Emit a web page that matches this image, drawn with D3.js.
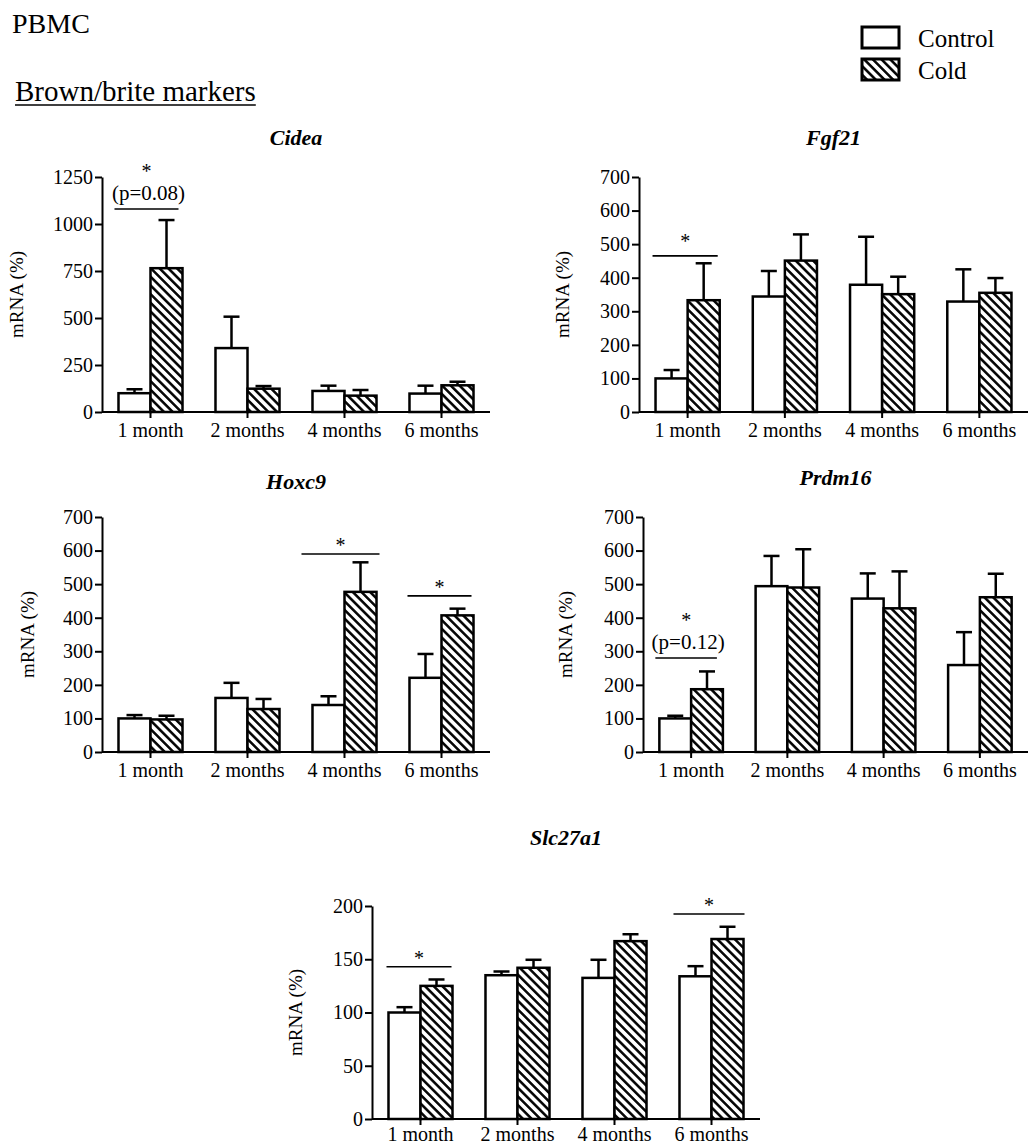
<!DOCTYPE html>
<html>
<head>
<meta charset="utf-8">
<script src="https://cdn.jsdelivr.net/npm/d3@7"></script>
<style>
  body { margin: 0; background: #fff; }
</style>
</head>
<body>
<svg id="fig" width="1029" height="1146"></svg>
<script>
// ---- data -------------------------------------------------------------
const groups = ["1 month", "2 months", "4 months", "6 months"];
const seriesNames = ["Control", "Cold"];

// mRNA (%) means and SEM per time point
const cideaControl    = [100, 340, 112, 98];
const cideaControlSem = [21, 167, 28, 42];
const cideaCold       = [765, 124, 87, 142];
const cideaColdSem    = [256, 14, 30, 19];

const fgf21Control    = [100, 344, 379, 329];
const fgf21ControlSem = [25, 76, 143, 96];
const fgf21Cold       = [333, 451, 351, 355];
const fgf21ColdSem    = [110, 78, 52, 44];

const hoxc9Control    = [100, 161, 140, 221];
const hoxc9ControlSem = [10, 45, 26, 71];
const hoxc9Cold       = [97, 128, 477, 407];
const hoxc9ColdSem    = [11, 30, 88, 20];

const prdm16Control    = [100, 494, 457, 259];
const prdm16ControlSem = [8, 90, 75, 98];
const prdm16Cold       = [187, 490, 428, 461];
const prdm16ColdSem    = [53, 114, 110, 70];

const slcControl    = [100, 135, 132.5, 134];
const slcControlSem = [5, 3.5, 17, 9.5];
const slcCold       = [125, 142, 167, 169];
const slcColdSem    = [6, 7.5, 6.5, 11.5];

// y-axis tick labels
const ticksCidea = [0, 250, 500, 750, 1000, 1250];
const ticks700   = [0, 100, 200, 300, 400, 500, 600, 700];
const ticksSlc   = [0, 50, 100, 150, 200];

// significance brackets: group, bracket level (mRNA %), mark, optional note
const sigCidea = [{ group: "1 month", level: 1080, mark: "*", note: "(p=0.08)" }];
const sigFgf21 = [{ group: "1 month", level: 465, mark: "*" }];
const sigHoxc9 = [
  { group: "4 months", level: 590, mark: "*" },
  { group: "6 months", level: 465, mark: "*" }
];
const sigPrdm16 = [{ group: "1 month", level: 280, mark: "*", note: "(p=0.12)" }];
const sigSlc = [
  { group: "1 month", level: 143, mark: "*" },
  { group: "6 months", level: 192.5, mark: "*" }
];

// ---- panel layout -----------------------------------------------------
const panels = [
  { gene: "Cidea",   control: cideaControl,  controlSem: cideaControlSem,  cold: cideaCold,  coldSem: cideaColdSem,
    max: 1250, ticks: ticksCidea, sig: sigCidea,
    x0: 102, x1: 490, yBase: 412, yTop: 177, titleY: 145, labelDx: -86, xLabelPad: 5,
    bracket: { "1 month": [-4, -4] } },
  { gene: "Fgf21",   control: fgf21Control,  controlSem: fgf21ControlSem,  cold: fgf21Cold,  coldSem: fgf21ColdSem,
    max: 700, ticks: ticks700, sig: sigFgf21,
    x0: 639, x1: 1028, yBase: 412, yTop: 177, titleY: 145, labelDx: -77, xLabelPad: 5,
    bracket: { "1 month": [-3, -2] }, markLift: { "1 month": 6 } },
  { gene: "Hoxc9",   control: hoxc9Control,  controlSem: hoxc9ControlSem,  cold: hoxc9Cold,  coldSem: hoxc9ColdSem,
    max: 700, ticks: ticks700, sig: sigHoxc9,
    x0: 102, x1: 490, yBase: 752, yTop: 517, titleY: 489, labelDx: -75, xLabelPad: 5,
    bracket: { "4 months": [-11, 3], "6 months": [-2, -2] } },
  { gene: "Prdm16",  control: prdm16Control, controlSem: prdm16ControlSem, cold: prdm16Cold, coldSem: prdm16ColdSem,
    max: 700, ticks: ticks700, sig: sigPrdm16,
    x0: 643, x1: 1028, yBase: 752, yTop: 517, titleY: 485, labelDx: -78, xLabelPad: 5,
    bracket: { "1 month": [-4, -6] } },
  { gene: "Slc27a1", control: slcControl,    controlSem: slcControlSem,    cold: slcCold,    coldSem: slcColdSem,
    max: 200, ticks: ticksSlc, sig: sigSlc,
    x0: 372, x1: 760, yBase: 1119, yTop: 906, titleY: 845, labelDx: -77, xLabelPad: 2,
    bracket: { "1 month": [-2, -1], "6 months": [-6, 1] } }
];

// ---- drawing ----------------------------------------------------------
const serif = "'Liberation Serif', 'Times New Roman', Times, serif";
const svg = d3.select("#fig").style("font-family", serif);
svg.append("rect").attr("width", 1029).attr("height", 1146).attr("fill", "#fff");

function label(sel) {
  return sel.style("font-family", serif).attr("fill", "#000");
}

// diagonal hatching for the Cold series
const defs = svg.append("defs");
const hatchPeriod = 8.7;
const tileW = hatchPeriod / Math.SQRT2;
const pat = defs.append("pattern")
  .attr("id", "hatch")
  .attr("patternUnits", "userSpaceOnUse")
  .attr("width", tileW)
  .attr("height", 20)
  .attr("patternTransform", "rotate(-45)");
pat.append("rect").attr("width", tileW).attr("height", 20).attr("fill", "#fff");
pat.append("line")
  .attr("x1", tileW / 2).attr("x2", tileW / 2)
  .attr("y1", 0).attr("y2", 20)
  .attr("stroke", "#000").attr("stroke-width", 2.5);

const fills = { Control: "#fff", Cold: "url(#hatch)" };

// header texts
svg.append("text").attr("x", 12).attr("y", 33).attr("font-size", 28).call(label).text("PBMC");
const sub = svg.append("text").attr("x", 15).attr("y", 101).attr("font-size", 29).call(label)
  .text("Brown/brite markers");
const subW = sub.node().getComputedTextLength();
svg.append("line").attr("x1", 15).attr("x2", 15 + subW).attr("y1", 105).attr("y2", 105)
  .attr("stroke", "#000").attr("stroke-width", 1.6);

// legend
const legend = svg.append("g");
seriesNames.forEach((s, i) => {
  const ly = 27 + i * 32;
  legend.append("rect").attr("x", 862).attr("y", ly).attr("width", 37).attr("height", 21)
    .attr("fill", fills[s]).attr("stroke", "#000").attr("stroke-width", 3);
  legend.append("text").attr("x", 918).attr("y", ly + 20).attr("font-size", 25).call(label).text(s);
});

panels.forEach(p => {
  const g = svg.append("g");

  const x = d3.scaleBand().domain(groups).range([p.x0, p.x1])
    .paddingInner(0.34).paddingOuter(0.17);
  const xs = d3.scaleBand().domain(seriesNames).range([0, x.bandwidth()]);
  const y = d3.scaleLinear().domain([0, p.max]).range([p.yBase, p.yTop]);

  const rows = [];
  groups.forEach((grp, i) => {
    rows.push({ group: grp, series: "Control", mean: p.control[i], sem: p.controlSem[i] });
    rows.push({ group: grp, series: "Cold", mean: p.cold[i], sem: p.coldSem[i] });
  });

  // bars
  g.selectAll("rect.bar").data(rows).join("rect")
    .attr("class", "bar")
    .attr("x", d => x(d.group) + xs(d.series))
    .attr("y", d => y(d.mean))
    .attr("width", xs.bandwidth())
    .attr("height", d => y(0) - y(d.mean))
    .attr("fill", d => fills[d.series])
    .attr("stroke", "#000")
    .attr("stroke-width", 2.5);

  // upper error bars
  const cx = d => x(d.group) + xs(d.series) + xs.bandwidth() / 2;
  const eb = g.selectAll("g.err").data(rows).join("g").attr("class", "err")
    .attr("stroke", "#000").attr("stroke-width", 2.5);
  eb.append("line")
    .attr("x1", cx).attr("x2", cx)
    .attr("y1", d => y(d.mean))
    .attr("y2", d => y(d.mean + d.sem));
  eb.append("line")
    .attr("x1", d => cx(d) - 8)
    .attr("x2", d => cx(d) + 8)
    .attr("y1", d => y(d.mean + d.sem))
    .attr("y2", d => y(d.mean + d.sem));

  // axes
  const yAxis = g.append("g").attr("transform", `translate(${p.x0},0)`)
    .call(d3.axisLeft(y).tickValues(p.ticks).tickFormat(d3.format("d"))
      .tickSize(7).tickSizeOuter(0).tickPadding(2));
  const xAxis = g.append("g").attr("transform", `translate(0,${p.yBase})`)
    .call(d3.axisBottom(x).tickSize(6).tickSizeOuter(0).tickPadding(p.xLabelPad));
  [yAxis, xAxis].forEach(a => {
    a.attr("font-family", null).attr("font-size", null);
    a.select(".domain").attr("stroke", "#000").attr("stroke-width", 2);
    a.selectAll(".tick line").attr("stroke", "#000").attr("stroke-width", 2);
    a.selectAll(".tick text").attr("font-size", 20).call(label);
  });
  // x baseline runs from the y axis to the end of the last group
  xAxis.select(".domain").attr("d", `M${p.x0},0H${p.x1}`);

  // y-axis label
  const cy = (p.yBase + p.yTop) / 2;
  g.append("text")
    .attr("transform", `translate(${p.x0 + p.labelDx},${cy}) rotate(-90)`)
    .attr("text-anchor", "middle").attr("dy", "0.35em")
    .attr("font-size", 19).call(label).text("mRNA (%)");

  // title
  g.append("text")
    .attr("x", (p.x0 + p.x1) / 2).attr("y", p.titleY)
    .attr("text-anchor", "middle").attr("font-size", 22)
    .attr("font-weight", "bold").attr("font-style", "italic")
    .call(label).text(p.gene);

  // significance brackets
  p.sig.forEach(s => {
    const ext = (p.bracket && p.bracket[s.group]) || [-3, -3];
    const lx1 = x(s.group) + ext[0];
    const lx2 = x(s.group) + x.bandwidth() + ext[1];
    const ly = y(s.level);
    const mid = (lx1 + lx2) / 2;
    g.append("line").attr("x1", lx1).attr("x2", lx2).attr("y1", ly).attr("y2", ly)
      .attr("stroke", "#000").attr("stroke-width", 1.6);
    const lift = (p.markLift && p.markLift[s.group]) || 0;
    if (s.note) {
      g.append("text").attr("x", mid + 2).attr("y", ly - 9)
        .attr("text-anchor", "middle").attr("font-size", 21).call(label).text(s.note);
      g.append("text").attr("x", mid).attr("y", ly - 31 - lift)
        .attr("text-anchor", "middle").attr("font-size", 20).call(label).text(s.mark);
    } else {
      g.append("text").attr("x", mid).attr("y", ly - 2 - lift)
        .attr("text-anchor", "middle").attr("font-size", 20).call(label).text(s.mark);
    }
  });
});
</script>
</body>
</html>
